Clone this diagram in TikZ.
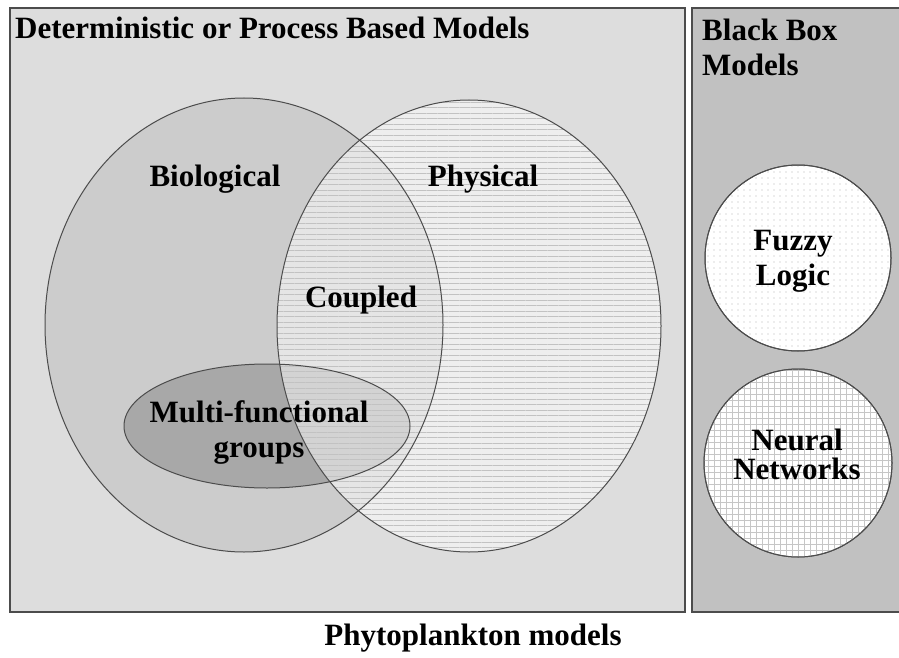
\documentclass[tikz,border=0pt]{standalone}
\usepackage{fontspec}
\setmainfont{Liberation Serif}
\usetikzlibrary{patterns.meta}

\definecolor{leftgray}{gray}{0.865}
\definecolor{rightgray}{gray}{0.755}
\definecolor{biogray}{gray}{0.80}
\definecolor{multigray}{gray}{0.66}
\definecolor{edgegray}{gray}{0.30}
\definecolor{stripegray}{gray}{0.76}

\tikzset{
  lbl/.style={font=\bfseries\fontsize{31}{35}\selectfont, anchor=base, inner sep=0pt, align=center},
  edge/.style={draw=edgegray, line width=1pt}
}

\begin{document}
\begin{tikzpicture}[x=1pt, y=-1pt]
    \useasboundingbox (0,0) rectangle (899,658);
    \fill[white] (0,0) rectangle (899,658);

    %boxes
    \filldraw[fill=leftgray, draw=edgegray, line width=1.5pt] (10,8) rectangle (685,612);
    \filldraw[fill=rightgray, draw=edgegray, line width=1.5pt] (692,8) rectangle (910,612);

    %biological + multi
    \fill[biogray] (244,325) ellipse (199 and 227);
    \fill[multigray] (267,426) ellipse (143 and 62);

    %physical
    \fill[white, opacity=0.5] (469,326) ellipse (192 and 226);
    \fill[pattern={Lines[angle=0, distance=5.5pt, line width=1pt]}, pattern color=stripegray] (469,326) ellipse (192 and 226);

    %outlines
    \draw[edge] (244,325) ellipse (199 and 227);
    \draw[edge] (267,426) ellipse (143 and 62);
    \draw[edge] (469,326) ellipse (192 and 226);

    %black box
    \filldraw[fill=white, edge] (798,258) circle (93);
    \fill[pattern={Dots[distance=6pt, radius=0.6pt]}, pattern color=gray!60] (798,258) circle (93);
    \filldraw[fill=white, edge] (798,463) circle (94);
    \fill[pattern={Hatch[angle=0, distance=6pt, line width=0.6pt]}, pattern color=gray!45] (798,463) circle (94);
    \draw[edge] (798,258) circle (93);
    \draw[edge] (798,463) circle (94);

    %labels
    \node[lbl, anchor=base west] (title) at (15,39) {Deterministic or Process Based Models};
    \node[lbl, anchor=base west, align=left] (bbox) at (702,76) {Black Box\\Models};
    \node[lbl] (bio) at (215,186) {Biological};
    \node[lbl] (phys) at (483,186) {Physical};
    \node[lbl] (coup) at (361,307) {Coupled};
    \node[lbl] (multi) at (259,457) {Multi-functional\\groups};
    \node[lbl] (fuzzy) at (793,285) {Fuzzy\\Logic};
    \node[lbl, font=\bfseries\fontsize{31}{29}\selectfont] (neural) at (797,479) {Neural\\Networks};
    \node[lbl] (phyto) at (473,645) {Phytoplankton models};

\end{tikzpicture}
\end{document}
